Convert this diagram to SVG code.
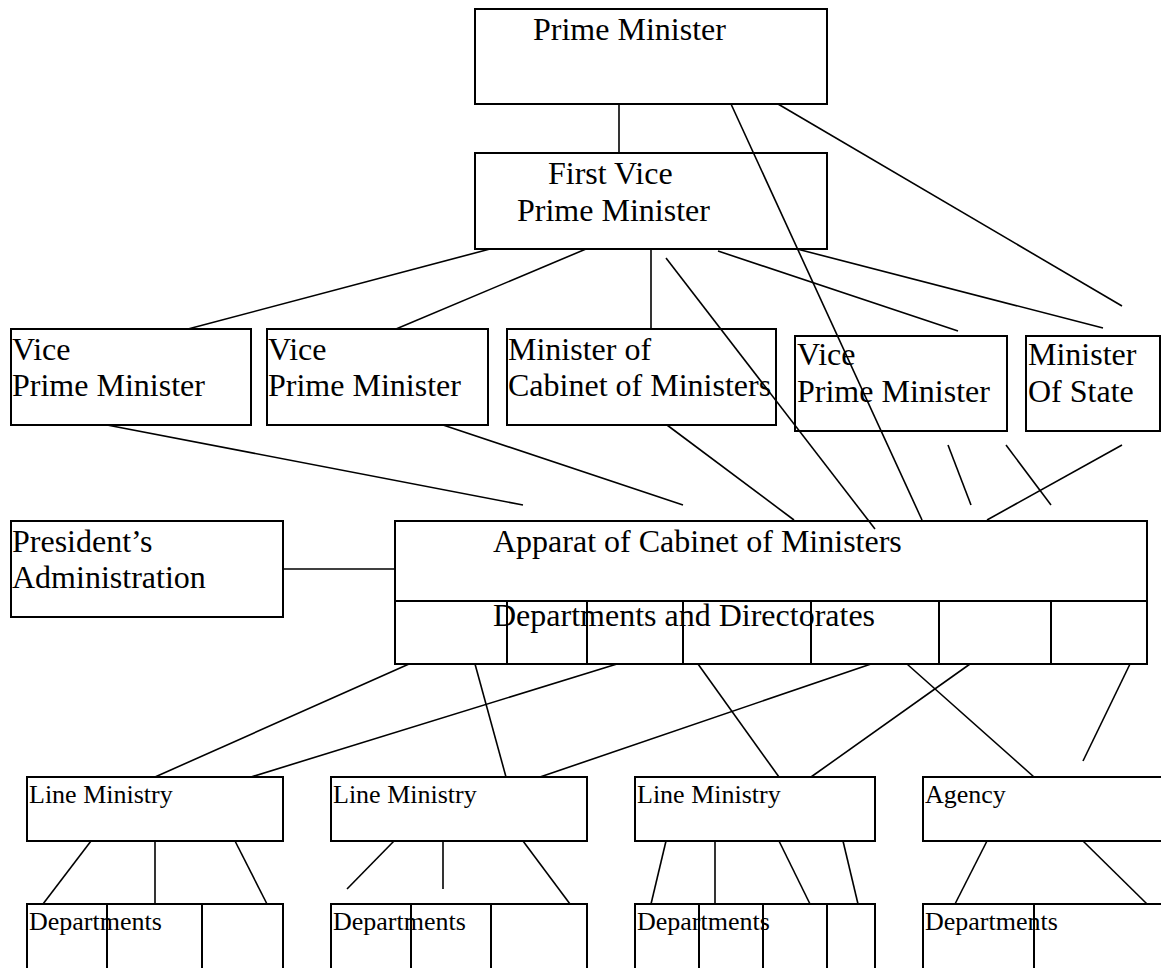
<svg xmlns="http://www.w3.org/2000/svg" width="1161" height="968" viewBox="0 0 1161 968">
<style>
.box{fill:#fff;stroke:#000;stroke-width:2}
.div{stroke:#000;stroke-width:2;fill:none}
.ln{stroke:#000;stroke-width:1.6;fill:none}
.t{font-family:"Liberation Serif","Times New Roman",serif;font-size:32px;fill:#000}
.s{font-family:"Liberation Serif","Times New Roman",serif;font-size:26px;fill:#000}
</style>
<rect width="1161" height="968" fill="#fff"/>
<g id="pm"><rect class="box" x="475" y="9" width="352" height="95"/><text class="t" x="533" y="40">Prime Minister</text></g>
<g id="fvpm"><rect class="box" x="475" y="153" width="352" height="96"/><text class="t" x="548" y="184">First Vice</text><text class="t" x="517" y="221">Prime Minister</text></g>
<g id="vpm1"><rect class="box" x="11" y="329" width="240" height="96"/><text class="t" x="12" y="360">Vice</text><text class="t" x="12" y="396">Prime Minister</text></g>
<g id="vpm2"><rect class="box" x="267" y="329" width="221" height="96"/><text class="t" x="268" y="360">Vice</text><text class="t" x="268" y="396">Prime Minister</text></g>
<g id="moc"><rect class="box" x="507" y="329" width="269" height="96"/><text class="t" x="508" y="360">Minister of</text><text class="t" x="508" y="396">Cabinet of Ministers</text></g>
<g id="vpm3"><rect class="box" x="795" y="336" width="212" height="95"/><text class="t" x="797" y="365">Vice</text><text class="t" x="797" y="402">Prime Minister</text></g>
<g id="mos"><rect class="box" x="1026" y="336" width="134" height="95"/><text class="t" x="1028" y="365">Minister</text><text class="t" x="1028" y="402">Of State</text></g>
<g id="pres"><rect class="box" x="11" y="521" width="272" height="96"/><text class="t" x="12" y="552">President’s</text><text class="t" x="12" y="588">Administration</text></g>
<g id="apparat"><rect class="box" x="395" y="521" width="752" height="143"/><line class="div" x1="395" y1="601" x2="1147" y2="601"/><line class="div" x1="507" y1="601" x2="507" y2="664"/><line class="div" x1="587" y1="601" x2="587" y2="664"/><line class="div" x1="683" y1="601" x2="683" y2="664"/><line class="div" x1="811" y1="601" x2="811" y2="664"/><line class="div" x1="939" y1="601" x2="939" y2="664"/><line class="div" x1="1051" y1="601" x2="1051" y2="664"/><text class="t" x="493" y="552">Apparat of Cabinet of Ministers</text><text class="t" x="493" y="626">Departments and Directorates</text></g>
<g id="lm1"><rect class="box" x="27" y="777" width="256" height="64"/><text class="s" x="29" y="803">Line Ministry</text></g>
<g id="lm2"><rect class="box" x="331" y="777" width="256" height="64"/><text class="s" x="333" y="803">Line Ministry</text></g>
<g id="lm3"><rect class="box" x="635" y="777" width="240" height="64"/><text class="s" x="637" y="803">Line Ministry</text></g>
<g id="agency"><rect class="box" x="923" y="777" width="260" height="64"/><text class="s" x="925" y="803">Agency</text></g>
<g id="dept1"><rect class="box" x="27" y="904" width="256" height="80"/><line class="div" x1="107" y1="904" x2="107" y2="984"/><line class="div" x1="202" y1="904" x2="202" y2="984"/><text class="s" x="29" y="930">Departments</text></g>
<g id="dept2"><rect class="box" x="331" y="904" width="256" height="80"/><line class="div" x1="411" y1="904" x2="411" y2="984"/><line class="div" x1="491" y1="904" x2="491" y2="984"/><text class="s" x="333" y="930">Departments</text></g>
<g id="dept3"><rect class="box" x="635" y="904" width="240" height="80"/><line class="div" x1="699" y1="904" x2="699" y2="984"/><line class="div" x1="763" y1="904" x2="763" y2="984"/><line class="div" x1="827" y1="904" x2="827" y2="984"/><text class="s" x="637" y="930">Departments</text></g>
<g id="dept4"><rect class="box" x="923" y="904" width="260" height="80"/><line class="div" x1="1034" y1="904" x2="1034" y2="984"/><text class="s" x="925" y="930">Departments</text></g>
<g id="connectors" class="ln">
<line x1="619" y1="104" x2="619" y2="153"/>
<line x1="731" y1="104" x2="922" y2="520"/>
<line x1="778" y1="104" x2="1122" y2="306"/>
<line x1="490" y1="249" x2="188" y2="329"/>
<line x1="586" y1="249" x2="396" y2="329"/>
<line x1="651" y1="249" x2="651" y2="329"/>
<line x1="666" y1="258" x2="875" y2="529"/>
<line x1="718" y1="251" x2="958" y2="331"/>
<line x1="797" y1="249" x2="1103" y2="328"/>
<line x1="107" y1="425" x2="523" y2="505"/>
<line x1="443" y1="425" x2="683" y2="505"/>
<line x1="667" y1="425" x2="794" y2="520"/>
<line x1="948" y1="445" x2="971" y2="505"/>
<line x1="1006" y1="445" x2="1051" y2="505"/>
<line x1="1122" y1="445" x2="987" y2="520"/>
<line x1="283" y1="569" x2="395" y2="569"/>
<line x1="409" y1="664" x2="155" y2="777"/>
<line x1="617" y1="664" x2="251" y2="777"/>
<line x1="475" y1="664" x2="506" y2="777"/>
<line x1="871" y1="664" x2="540" y2="777"/>
<line x1="698" y1="664" x2="779" y2="777"/>
<line x1="970" y1="664" x2="811" y2="777"/>
<line x1="907" y1="664" x2="1034" y2="777"/>
<line x1="1130" y1="664" x2="1083" y2="761"/>
<line x1="91" y1="841" x2="43" y2="904"/>
<line x1="155" y1="841" x2="155" y2="904"/>
<line x1="235" y1="841" x2="267" y2="904"/>
<line x1="394" y1="841" x2="347" y2="889"/>
<line x1="443" y1="841" x2="443" y2="889"/>
<line x1="523" y1="841" x2="570" y2="904"/>
<line x1="666" y1="841" x2="651" y2="904"/>
<line x1="715" y1="841" x2="715" y2="904"/>
<line x1="779" y1="841" x2="810" y2="904"/>
<line x1="843" y1="841" x2="858" y2="904"/>
<line x1="987" y1="841" x2="955" y2="904"/>
<line x1="1083" y1="841" x2="1147" y2="904"/>
</g>
</svg>
